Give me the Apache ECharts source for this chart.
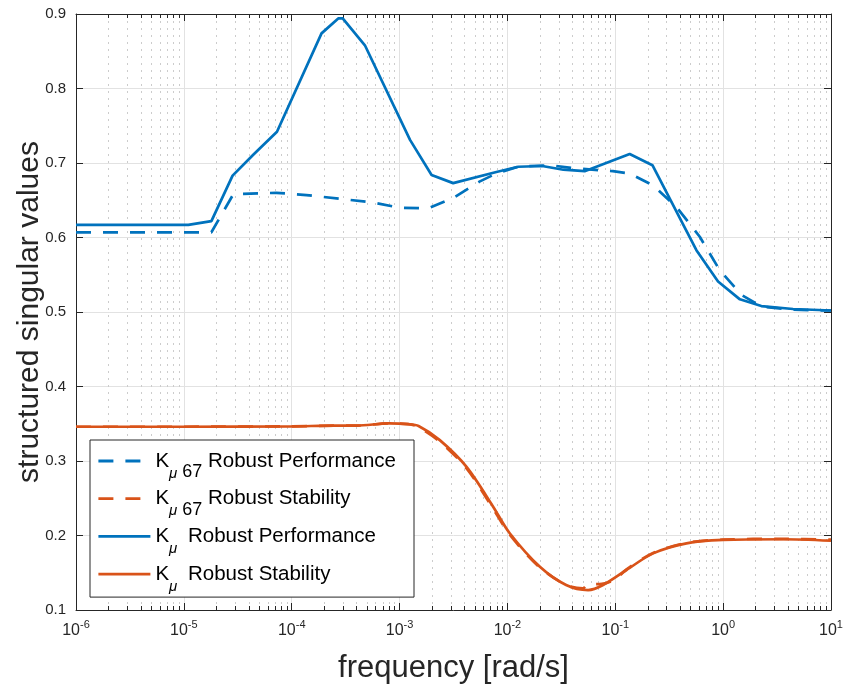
<!DOCTYPE html>
<html>
<head>
<meta charset="utf-8">
<script src="https://cdn.jsdelivr.net/npm/echarts@6/dist/echarts.min.js"></script>
<style>
html,body{margin:0;padding:0;background:#fff;}
#chart{width:843px;height:691px;}
</style>
</head>
<body>
<div id="chart"></div>
<script>
// ---- data ----
const freqRP67 = [1e-6, 1.8e-5, 2.87e-5, 7.2e-5, 1.37e-4, 3.2e-4, 5.7e-4, 1.0e-3, 1.84e-3, 3.14e-3, 5.5e-3, 7.9e-3, 1.26e-2, 2.5e-2, 4.06e-2, 9.5e-2, 0.136, 0.224, 0.369, 0.607, 0.93, 1.48, 2.3, 4.5, 10];
const muRP67   = [0.607, 0.607, 0.658, 0.660, 0.657, 0.651, 0.647, 0.640, 0.639, 0.653, 0.675, 0.686, 0.695, 0.697, 0.693, 0.689, 0.686, 0.670, 0.641, 0.601, 0.556, 0.523, 0.507, 0.503, 0.502];

const freqRS67 = [1e-6, 1e-5, 1e-4, 2.5e-4, 4e-4, 8e-4, 1.2e-3, 1.5e-3, 2.36e-3, 4.18e-3, 7.37e-3, 1.05e-2, 2.0e-2, 3.5e-2, 5.0e-2, 5.6e-2, 7.5e-2, 0.1, 0.127, 0.224, 0.457, 1.0, 3.6, 10];
const muRS67   = [0.346, 0.346, 0.3465, 0.3475, 0.3475, 0.3505, 0.3495, 0.3455, 0.326, 0.290, 0.236, 0.201, 0.157, 0.1336, 0.129, 0.1345, 0.135, 0.141, 0.1545, 0.1765, 0.190, 0.1945, 0.1955, 0.1945];

const freqRP = [1e-6, 1.1e-5, 1.8e-5, 2.83e-5, 4.4e-5, 7.3e-5, 1.89e-4, 2.7e-4, 2.97e-4, 4.77e-4, 1.25e-3, 1.98e-3, 3.14e-3, 7.9e-3, 1.26e-2, 2.1e-2, 3.3e-2, 5.2e-2, 1.36e-1, 2.21e-1, 5.65e-1, 8.97e-1, 1.43, 2.26, 4.45, 10];
const muRP   = [0.617, 0.617, 0.622, 0.683, 0.711, 0.742, 0.874, 0.894, 0.894, 0.858, 0.731, 0.684, 0.673, 0.688, 0.695, 0.696, 0.691, 0.689, 0.712, 0.697, 0.583, 0.541, 0.517, 0.508, 0.504, 0.502];

const freqRS = [1e-6, 1e-5, 1e-4, 2.5e-4, 4e-4, 8e-4, 1.2e-3, 1.5e-3, 2.36e-3, 4.18e-3, 7.37e-3, 1.05e-2, 2.0e-2, 3.5e-2, 5.6e-2, 7.7e-2, 0.127, 0.224, 0.457, 1.0, 3.6, 10];
const muRS   = [0.346, 0.346, 0.3465, 0.3475, 0.3475, 0.3505, 0.3495, 0.347, 0.328, 0.292, 0.2387, 0.203, 0.158, 0.1336, 0.1268, 0.1336, 0.1537, 0.176, 0.1895, 0.194, 0.195, 0.193];

const seriesNames = ['K\u03bc 67 Robust Performance', 'K\u03bc 67 Robust Stability', 'K\u03bc Robust Performance', 'K\u03bc Robust Stability'];
const yTicks = [0.1, 0.2, 0.3, 0.4, 0.5, 0.6, 0.7, 0.8, 0.9];
const xName = 'frequency [rad/s]';
const yName = 'structured singular values';

const BLUE = '#0072BD', ORANGE = '#D95319', AX = '#262626';
const FONT = 'Liberation Sans';

function pairs(xs, ys) { return xs.map((x, i) => [x, ys[i]]); }

const chart = echarts.init(document.getElementById('chart'), null, {renderer: 'canvas'});

const xCommon = {
  type: 'log', logBase: 10, min: 1e-6, max: 10,
  axisLine: {show: true, lineStyle: {color: AX, width: 1}},
  axisTick: {show: true, inside: true, length: 7, lineStyle: {color: AX}},
  minorTick: {show: true, splitNumber: 9, length: 4, lineStyle: {color: AX}},
};

const option = {
  animation: false,
  backgroundColor: '#fff',
  grid: {left: 76, right: 12, top: 14, bottom: 81, containLabel: false, outerBoundsMode: 'none'},
  xAxis: [
    Object.assign({}, xCommon, {
      position: 'bottom',
      name: xName, nameLocation: 'middle', nameGap: 43,
      nameTextStyle: {fontFamily: FONT, fontSize: 31, color: AX},
      axisLabel: {
        margin: 9, color: AX, fontFamily: FONT,
        formatter: function (v) { const e = Math.round(Math.log10(v)); return '{b|10}{s|' + e + '}'; },
        rich: {b: {fontSize: 16, lineHeight: 24, fontFamily: FONT, color: AX, verticalAlign: 'middle'},
               s: {fontSize: 11, fontFamily: FONT, color: AX, verticalAlign: 'top'}}
      },
      splitLine: {show: true, lineStyle: {color: '#e2e2e2', width: 1}},
      minorSplitLine: {show: true, lineStyle: {color: '#cccccc', width: 1, type: [2, 5]}}
    }),
    Object.assign({}, xCommon, {
      position: 'top',
      axisLabel: {show: false},
      splitLine: {show: false}, minorSplitLine: {show: false}
    })
  ],
  yAxis: [
    {
      type: 'value', min: 0.1, max: 0.9, interval: 0.1, position: 'left',
      name: yName, nameLocation: 'middle', nameGap: 31, nameRotate: 90, nameMoveOverlap: false,
      nameTextStyle: {fontFamily: FONT, fontSize: 30, color: AX},
      axisLine: {show: true, lineStyle: {color: AX}},
      axisTick: {show: true, inside: true, length: 7, lineStyle: {color: AX}},
      axisLabel: {margin: 10, fontFamily: FONT, fontSize: 15, color: AX, formatter: v => v.toFixed(1)},
      splitLine: {show: true, lineStyle: {color: '#e2e2e2', width: 1}}
    },
    {
      type: 'value', min: 0.1, max: 0.9, interval: 0.1, position: 'right',
      axisLine: {show: true, lineStyle: {color: AX}},
      axisTick: {show: true, inside: true, length: 7, lineStyle: {color: AX}},
      axisLabel: {show: false},
      splitLine: {show: false}
    }
  ],
  legend: {
    orient: 'vertical', left: 90, top: 440,
    padding: [1, 18, 3, 7], itemGap: -2.3, itemWidth: 52, itemHeight: 14,
    backgroundColor: '#fff', borderColor: AX, borderWidth: 1, borderRadius: 0,
    itemStyle: {color: 'rgba(0,0,0,0)', borderColor: 'rgba(0,0,0,0)', borderWidth: 0},
    lineStyle: {width: 2.8},
    data: seriesNames,
    formatter: function (name) {
      const is67 = name.indexOf('67') >= 0;
      const rest = name.replace('K\u03bc 67 ', '').replace('K\u03bc ', '');
      return '{k|K}{mu|\u03bc}' + (is67 ? '{n| 67}' : '{n| }') + '{t| ' + rest + '}';
    },
    textStyle: {
      fontFamily: FONT, fontSize: 20.5, color: '#000', lineHeight: 40,
      rich: {
        k: {fontFamily: FONT, fontSize: 20.5, lineHeight: 40, color: '#000', verticalAlign: 'middle'},
        mu: {fontFamily: FONT, fontSize: 15, lineHeight: 16, fontStyle: 'italic', color: '#000', verticalAlign: 'bottom'},
        n: {fontFamily: FONT, fontSize: 18, lineHeight: 16, color: '#000', verticalAlign: 'bottom'},
        t: {fontFamily: FONT, fontSize: 20.5, lineHeight: 40, color: '#000', verticalAlign: 'middle'}
      }
    }
  },
  series: [
    {name: seriesNames[0], type: 'line', symbol: 'none', data: pairs(freqRP67, muRP67),
     lineStyle: {color: BLUE, width: 2.7, type: [15, 12]}, itemStyle: {color: BLUE}},
    {name: seriesNames[1], type: 'line', symbol: 'none', smooth: 0.3, data: pairs(freqRS67, muRS67),
     lineStyle: {color: ORANGE, width: 2.7, type: [15, 12]}, itemStyle: {color: ORANGE}},
    {name: seriesNames[2], type: 'line', symbol: 'none', data: pairs(freqRP, muRP),
     lineStyle: {color: BLUE, width: 2.7}, itemStyle: {color: BLUE}},
    {name: seriesNames[3], type: 'line', symbol: 'none', smooth: 0.3, data: pairs(freqRS, muRS),
     lineStyle: {color: ORANGE, width: 2.7}, itemStyle: {color: ORANGE}}
  ]
};
chart.setOption(option);
</script>
</body>
</html>
